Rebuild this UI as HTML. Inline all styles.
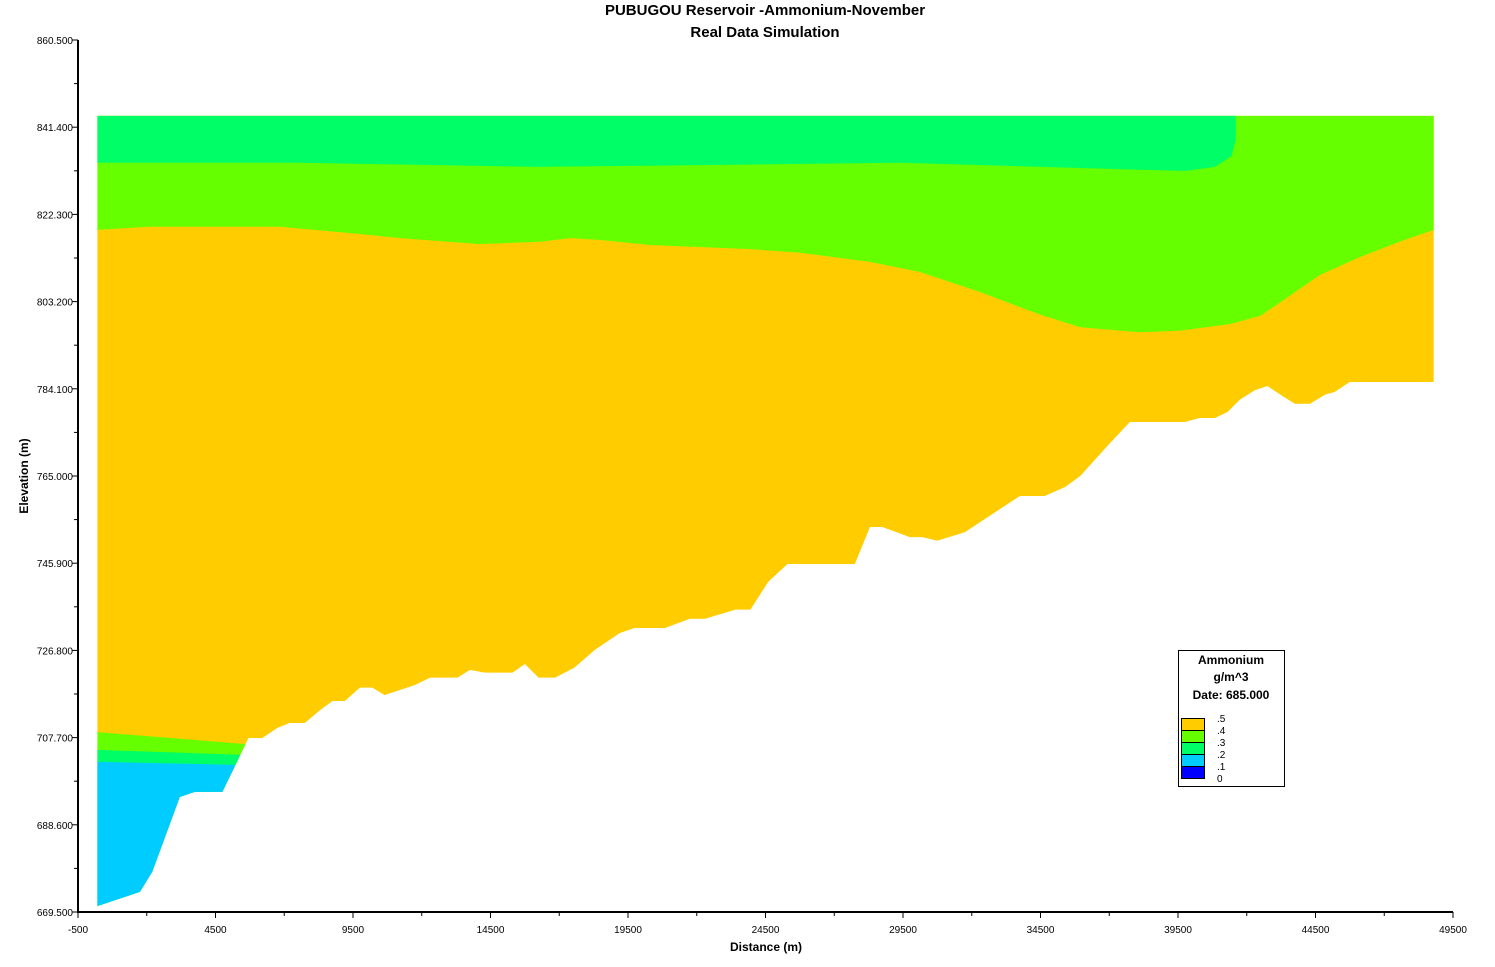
<!DOCTYPE html>
<html><head><meta charset="utf-8"><style>
body{margin:0;background:#fff;}
svg{display:block;font-family:"Liberation Sans",Arial,sans-serif;}
</style></head><body>
<svg id="c" width="1495" height="967" xmlns="http://www.w3.org/2000/svg">
<text x="765" y="15" text-anchor="middle" font-size="15" font-weight="bold">PUBUGOU Reservoir -Ammonium-November</text>
<text x="765" y="37" text-anchor="middle" font-size="15" font-weight="bold">Real Data Simulation</text>
<text x="766" y="951" text-anchor="middle" font-size="12" font-weight="bold">Distance (m)</text>
<text x="0" y="0" transform="translate(28,476) rotate(-90)" text-anchor="middle" font-size="12" font-weight="bold">Elevation (m)</text>
<g id="plot"></g>
<g id="legend">
<rect x="1178.5" y="650.5" width="106" height="136" fill="#fff" stroke="#000"/>
<text x="1231" y="664" text-anchor="middle" font-size="12" font-weight="bold">Ammonium</text>
<text x="1231" y="681" text-anchor="middle" font-size="12" font-weight="bold">g/m^3</text>
<text x="1231" y="699" text-anchor="middle" font-size="12" font-weight="bold">Date: 685.000</text>
</g>
</svg>
<script>
const NS="http://www.w3.org/2000/svg";
const xTicks=[-500,4500,9500,14500,19500,24500,29500,34500,39500,44500,49500];
const yTicks=[669.5,688.6,707.7,726.8,745.9,765.0,784.1,803.2,822.3,841.4,860.5];
const topElev=843.9;
const bottomBoundary=[[200,670.8],[1750,673.9],[2200,678.3],[3200,694.7],[3750,695.8],[4750,695.8],[5700,707.6],[6200,707.6],[6750,709.8],[7200,710.9],[7750,710.9],[8300,713.7],[8750,715.7],[9200,715.7],[9750,718.6],[10200,718.6],[10650,717.0],[11200,718.1],[11750,719.2],[12300,720.8],[13300,720.8],[13750,722.5],[14300,721.9],[15300,721.9],[15750,723.8],[16250,720.8],[16850,720.8],[17550,723.0],[18300,726.9],[19200,730.6],[19750,731.7],[20850,731.7],[21750,733.7],[22300,733.7],[23400,735.7],[23950,735.7],[24600,741.8],[25300,745.7],[27750,745.7],[28300,753.8],[28750,753.8],[29750,751.6],[30200,751.6],[30750,750.8],[31750,752.7],[33750,760.6],[34650,760.6],[35400,762.6],[35950,765.0],[37000,772.0],[37750,776.8],[39750,776.8],[40300,777.7],[40850,777.7],[41300,779.0],[41750,781.7],[42300,783.8],[42750,784.7],[43300,782.5],[43750,780.8],[44300,780.8],[44850,782.8],[45200,783.4],[45750,785.6],[48800,785.6]];
const limeOrangeLine=[[200,818.9],[2100,819.6],[6850,819.6],[9400,818.2],[11200,817.1],[14100,815.8],[16300,816.3],[17400,817.1],[18500,816.7],[20300,815.6],[23950,814.7],[25750,813.9],[28300,811.9],[30100,809.7],[32300,805.3],[34500,800.3],[35950,797.6],[38100,796.5],[39550,796.8],[41400,798.3],[42500,800.1],[43550,804.4],[44650,809.0],[46100,812.9],[47550,816.3],[48800,818.9]];
const greenTopLine=[[200,833.6],[7600,833.6],[16300,832.7],[29400,833.6],[39750,831.8],[40850,832.7],[41450,835.1],[41600,838.6],[41600,843.9]];
const deepLine1=[[200,708.9],[5570,706.3],[7000,706.3]];
const deepLine2=[[200,705.0],[5570,703.9],[7000,703.9]];
const deepLine3=[[200,702.4],[5570,701.7],[7000,701.7]];
const legendLabels=[".5",".4",".3",".2",".1","0"];
const legendColors=["#ffcc00","#66ff00","#00ff66","#00ccff","#0000ff"];

const X=d=>78+(d+500)*0.0275;
const Y=e=>912-(e-669.5)*(872/191);
const plot=document.getElementById('plot');
function mk(t,a,p){const e=document.createElementNS(NS,t);for(const k in a)e.setAttribute(k,a[k]);(p||plot).appendChild(e);return e;}
const pts=arr=>arr.map(p=>X(p[0]).toFixed(1)+","+Y(p[1]).toFixed(1)).join(" ");
const x0=bottomBoundary[0][0], x1=bottomBoundary[bottomBoundary.length-1][0];
// clip
const defs=mk('defs',{});
const cp=mk('clipPath',{id:'dom'},defs);
mk('polygon',{points:pts([[x0,topElev],[x1,topElev],...bottomBoundary.slice().reverse()])},cp);
const g=mk('g',{'clip-path':'url(#dom)'});
let el=mk('polygon',{points:pts([[x0,topElev],[x1,topElev],...bottomBoundary.slice().reverse()]),fill:'#ffcc00'},g);


el=mk('polygon',{points:pts([[x0,topElev],[x1,topElev],...limeOrangeLine.slice().reverse()]),fill:'#66ff00'},g);


el=mk('polygon',{points:pts([[x0,topElev],...greenTopLine]),fill:'#00ff66'},g);


const bands=[[deepLine1,'#66ff00','band-0.3-0.4-deep'],[deepLine2,'#00ff66','band-0.2-0.3-deep'],[deepLine3,'#00ccff','band-0.1-0.2-deep']];
bands.forEach(b=>{const L=b[0];const last=L[L.length-1][0];
 el=mk('polygon',{points:pts([...L,[last,660],[x0,660]]),fill:b[1]},g);
 
 });
// axes
el=mk('path',{d:`M${X(-500)},${Y(860.5)}V${Y(669.5)}H${X(49500)}`,stroke:'#000','stroke-width':2,fill:'none'});


xTicks.forEach((t,i)=>{const x=X(t);
 mk('line',{x1:x,x2:x,y1:912,y2:918,stroke:'#000'});
 if(i<xTicks.length-1){const xm=X(t+2500);mk('line',{x1:xm,x2:xm,y1:912,y2:916,stroke:'#000'});}
 el=mk('text',{x:x,y:933,'text-anchor':'middle','font-size':10});el.textContent=t;
 
 });
yTicks.forEach((t,i)=>{const y=Y(t);
 mk('line',{x1:72,x2:78,y1:y,y2:y,stroke:'#000'});
 if(i<yTicks.length-1){const ym=Y(t+9.55);mk('line',{x1:74,x2:78,y1:ym,y2:ym,stroke:'#000'});}
 el=mk('text',{x:73,y:y+4,'text-anchor':'end','font-size':10});el.textContent=t.toFixed(3);
 
 });
// legend
const lg=document.getElementById('legend');
legendColors.forEach((c,i)=>{el=mk('rect',{x:1181.5,y:718.5+i*12,width:23,height:12,fill:c,stroke:'#000'},lg);
 
 });
legendLabels.forEach((l,i)=>{el=mk('text',{x:1217,y:722+i*12,'font-size':10},lg);el.textContent=l;
 
 });
</script>
</body></html>
